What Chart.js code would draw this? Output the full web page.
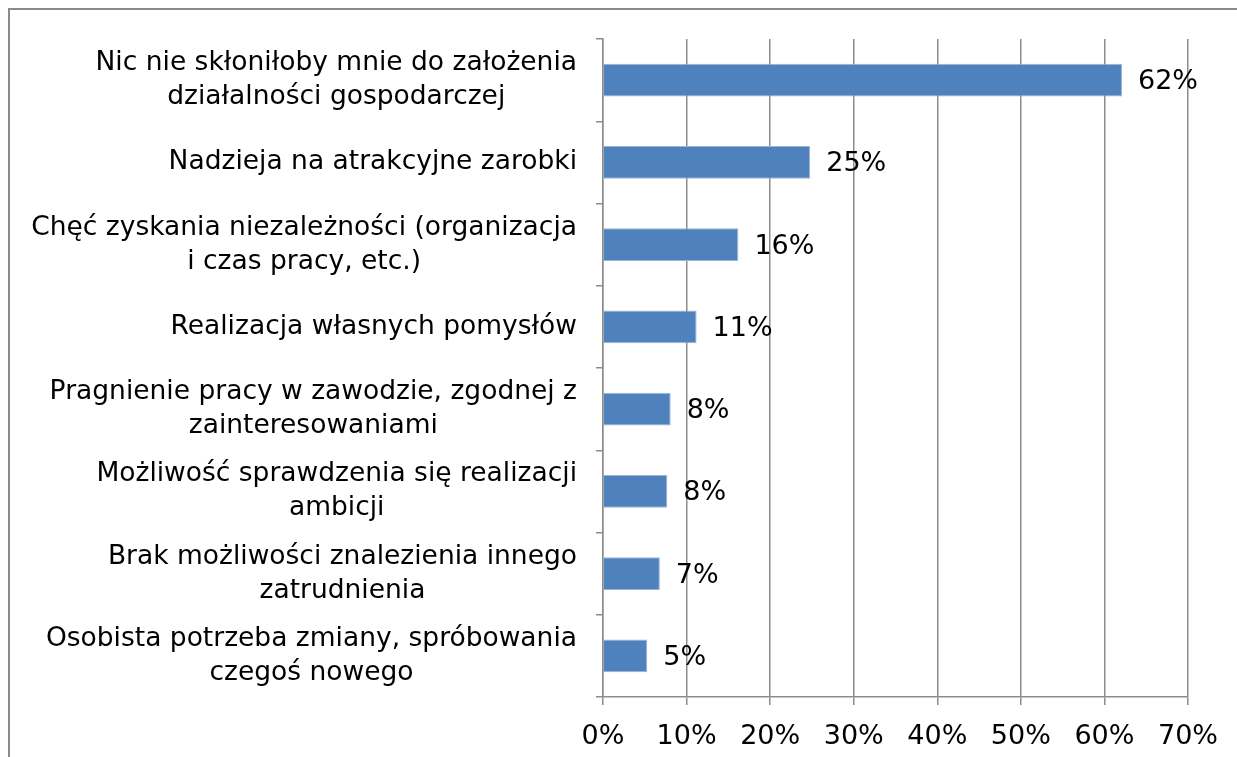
<!DOCTYPE html>
<html>
<head>
<meta charset="utf-8">
<script src="https://cdn.jsdelivr.net/npm/chart.js@4"></script>
<style>
  html, body { margin: 0; padding: 0; background: #fff; overflow: hidden; }
  #frame {
    position: absolute; left: 8px; top: 8px; width: 1400px; height: 900px;
    border-left: 2px solid #8a8a8a; border-top: 2px solid #8a8a8a;
  }
  #chart { position: absolute; left: 0; top: 0; }
</style>
</head>
<body>
<div id="frame"></div>
<canvas id="chart" width="1237" height="757"></canvas>
<script>
// ── Data ────────────────────────────────────────────────────────────
const categories = [
    ["Nic nie skłoniłoby mnie do założenia", "działalności gospodarczej"],
    ["Nadzieja na atrakcyjne zarobki"],
    ["Chęć zyskania niezależności (organizacja", "i czas pracy, etc.)"],
    ["Realizacja własnych pomysłów"],
    ["Pragnienie pracy w zawodzie, zgodnej z", "zainteresowaniami"],
    ["Możliwość sprawdzenia się realizacji", "ambicji"],
    ["Brak możliwości znalezienia innego", "zatrudnienia"],
    ["Osobista potrzeba zmiany, spróbowania", "czegoś nowego"],
];
const values = [62.1, 24.8, 16.2, 11.2, 8.1, 7.7, 6.8, 5.3];
const valueLabels = ["62%", "25%", "16%", "11%", "8%", "8%", "7%", "5%"];
const xTicks = [0, 10, 20, 30, 40, 50, 60, 70];

const FONT = '"DejaVu Sans", Verdana, sans-serif';
const GRID = "#8c8c8c";

// ── Plugins: category labels (block right-aligned, lines centred) + value labels
const catLabels = {
    id: "catLabels",
    afterDraw(chart) {
        const ctx = chart.ctx;
        const y = chart.scales.y;
        const right = y.right - 26;
        const lh = 34;
        ctx.save();
        ctx.font = "26.5px " + FONT;
        ctx.fillStyle = "#000";
        ctx.textAlign = "center";
        ctx.textBaseline = "middle";
        categories.forEach((lines, i) => {
            const w = Math.max(...lines.map(l => ctx.measureText(l).width));
            const cx = right - w / 2;
            const cy = y.getPixelForTick(i);
            lines.forEach((l, j) => {
                ctx.fillText(l, cx, cy + (j - (lines.length - 1) / 2) * lh);
            });
        });
        ctx.restore();
    }
};

const valLabels = {
    id: "valLabels",
    afterDatasetsDraw(chart) {
        const ctx = chart.ctx;
        const meta = chart.getDatasetMeta(0);
        ctx.save();
        ctx.font = "27px " + FONT;
        ctx.fillStyle = "#000";
        ctx.textAlign = "left";
        ctx.textBaseline = "middle";
        meta.data.forEach((bar, i) => {
            ctx.fillText(valueLabels[i], bar.x + 16, bar.y + 2);
        });
        ctx.restore();
    }
};

// ── Chart ───────────────────────────────────────────────────────────
new Chart(document.getElementById("chart").getContext("2d"), {
    type: "bar",
    data: {
        labels: categories.map(c => c.join(" ")),
        datasets: [{
            data: values,
            backgroundColor: "#4f81bd",
            borderColor: "#9bb4d8",
            borderWidth: 1,
            barPercentage: 0.4,
            categoryPercentage: 1,
        }]
    },
    options: {
        responsive: false,
        animation: false,
        indexAxis: "y",
        layout: { padding: { top: 39, right: 49, left: 0, bottom: 0 } },
        plugins: {
            legend: { display: false },
            tooltip: { enabled: false },
        },
        scales: {
            x: {
                min: 0,
                max: 70,
                afterBuildTicks: s => { s.ticks = xTicks.map(v => ({ value: v })); },
                afterFit: s => { s.height = 60; },
                ticks: {
                    color: "#000",
                    padding: 16,
                    font: { family: FONT, size: 27 },
                    callback: v => v + "%",
                    maxRotation: 0,
                    autoSkip: false,
                },
                grid: { color: GRID, lineWidth: 1.5, tickLength: 8 },
                border: { color: GRID, width: 1.5 },
            },
            y: {
                afterFit: s => { s.width = 603; },
                ticks: { display: false },
                grid: { drawOnChartArea: false, color: GRID, lineWidth: 1.5, tickLength: 7 },
                border: { color: GRID, width: 1.5 },
            },
        },
    },
    plugins: [catLabels, valLabels],
});
</script>
</body>
</html>
